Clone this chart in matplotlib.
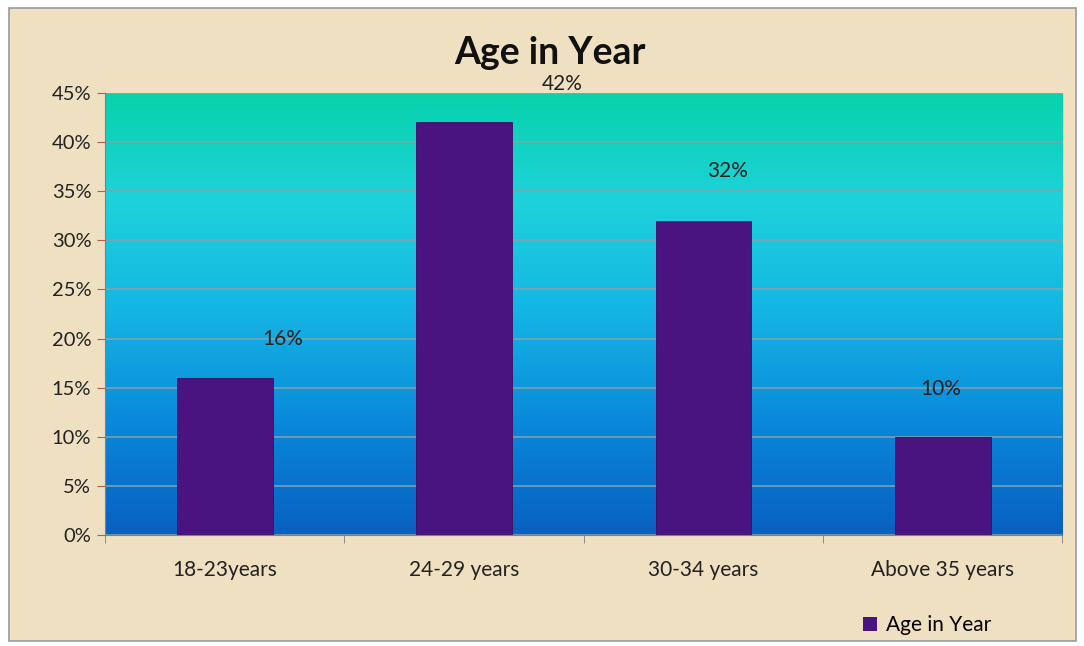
import matplotlib.pyplot as plt
import numpy as np
from matplotlib.colors import LinearSegmentedColormap
from matplotlib.patches import Rectangle

categories = ["18-23years", "24-29 years", "30-34 years", "Above 35 years"]
values = [16, 42, 32, 10]  # percent
series_name = "Age in Year"

# labels were nudged by hand in the original, so each gets its own offset
label_dx = [0.24, 0.41, 0.10, -0.01]
label_dy = [3.9, 3.9, 5.1, 4.9]

plt.rcParams['font.family'] = ['Lato', 'DejaVu Sans']

fig = plt.figure(figsize=(10.84, 6.46), dpi=100)
fig.patch.set_facecolor("white")

# parchment chart area with thin gray border
fig.patches.append(Rectangle((0.008, 0.008), 0.985, 0.98, transform=fig.transFigure,
                             facecolor="#efe0c2", edgecolor="#9a9a9a", lw=1.2, zorder=-10))

ax = fig.add_axes([0.097, 0.172, 0.883, 0.684])
ax.set_facecolor("none")

# teal -> cyan -> blue gradient in the plot area
grad = LinearSegmentedColormap.from_list("bg", [
    (0.0, "#0860c0"), (0.25, "#0a88da"), (0.5, "#14b4e4"),
    (0.75, "#1ed2dc"), (1.0, "#08d3aa")])
g = np.linspace(0, 1, 256).reshape(-1, 1)
ax.imshow(g, cmap=grad, origin="lower", aspect="auto",
          extent=[-0.5, 3.5, 0, 45], zorder=0)

x = np.arange(len(categories))
ax.bar(x, values, width=0.4, color="#4a1480", edgecolor="#3a0d66", lw=0.6, zorder=3)

for xi, v, dx, dy in zip(x, values, label_dx, label_dy):
    ax.text(xi + dx, v + dy, f"{v}%", ha="center", va="center",
            fontsize=15, color="#222222", zorder=4, clip_on=False)

ax.set_xlim(-0.5, 3.5)
ax.set_ylim(0, 45)
ax.set_yticks(np.arange(0, 46, 5))
ax.set_yticklabels([f"{t}%" for t in range(0, 46, 5)], fontsize=14.5, color="#222222")
ax.yaxis.grid(True, color="#8aa0aa", lw=1.1, zorder=1)
ax.set_axisbelow(True)

ax.set_xticks(x)
ax.set_xticklabels(categories, fontsize=15, color="#222222")
ax.tick_params(axis="x", length=0, pad=18)
ax.set_xticks(np.arange(-0.5, 3.6, 1), minor=True)
ax.tick_params(axis="x", which="minor", length=6, color="#808080")
ax.tick_params(axis="y", length=6, color="#b06050", pad=4)

for side in ["top", "right"]:
    ax.spines[side].set_visible(False)
ax.spines["left"].set_color("#808080")
ax.spines["bottom"].set_color("#808080")

fig.text(0.507, 0.918, "Age in Year", ha="center", va="center",
         fontsize=27, fontweight="bold", color="#111111")

handle = Rectangle((0, 0), 1, 1, facecolor="#4a1480")
fig.legend([handle], [series_name], loc="center", bbox_to_anchor=(0.855, 0.032),
           frameon=False, fontsize=15, handlelength=0.7, handleheight=0.7,
           handletextpad=0.4)

fig.savefig("out.png", dpi=100)
